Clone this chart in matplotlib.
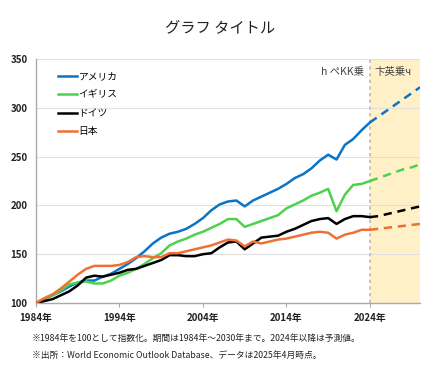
import matplotlib
matplotlib.use("Agg")
import matplotlib.pyplot as plt

plt.rcParams['font.family'] = ['Noto Sans CJK JP', 'DejaVu Sans']

years = list(range(1984, 2031))
actual_end = 2024

usa = [100, 104, 108, 112, 117, 121, 123, 123, 127, 130,
       135, 140, 146, 153, 161, 167, 171, 173, 176, 181,
       187, 195, 201, 204, 205, 199, 205, 209, 213, 217,
       222, 228, 232, 238, 246, 252, 247, 262, 268, 277,
       285, 291, 297, 303, 309, 315, 321]
uk = [100, 104, 108, 113, 119, 121, 122, 120, 120, 123,
      128, 131, 135, 140, 146, 151, 159, 163, 166, 170,
      173, 177, 181, 186, 186, 178, 181, 184, 187, 190,
      197, 201, 205, 210, 213, 217, 194, 211, 221, 222,
      225, 228, 231, 234, 237, 239, 242]
germany = [100, 102, 104, 108, 112, 118, 126, 128, 127, 129,
           131, 134, 135, 138, 141, 144, 149, 149, 148, 148,
           150, 151, 157, 162, 163, 155, 161, 167, 168, 169,
           173, 176, 180, 184, 186, 187, 181, 186, 189, 189,
           188, 189, 191, 193, 195, 197, 199]
japan = [100, 105, 109, 115, 122, 129, 135, 138, 138, 138,
         139, 142, 147, 148, 147, 147, 151, 151, 153, 155,
         157, 159, 162, 165, 164, 158, 163, 161, 163, 165,
         166, 168, 170, 172, 173, 172, 166, 170, 172, 175,
         175, 176, 177, 178, 179, 180, 181]

series_names = ['アメリカ', 'イギリス', 'ドイツ', '日本']
series_values = [usa, uk, germany, japan]
series_colors = ['#0A74C6', '#4CD24C', '#000000', '#EE7033']

xticks = [1984, 1994, 2004, 2014, 2024]
xtick_labels = ['1984年', '1994年', '2004年', '2014年', '2024年']
yticks = [100, 150, 200, 250, 300, 350]

title = 'グラフ タイトル'
label_actual = 'h ぺKK乗'
label_forecast = '卞英乗ч'
note1 = '※1984年を100として指数化。期間は1984年～2030年まで。2024年以降は予測値。'
note2 = '※出所：World Economic Outlook Database、データは2025年4月時点。'

fig = plt.figure(figsize=(4.41, 3.66), dpi=100)
ax = fig.add_axes([36/441, 1-303/366, (420-36)/441, (303-59)/366])

ax.axvspan(actual_end, years[-1], color='#FFF0C8', zorder=0, lw=0)
ax.axvline(actual_end, color='#BBBBBB', ls=(0, (2, 2)), lw=1.2, zorder=1)

idx = years.index(actual_end)
for name, vals, col in zip(series_names, series_values, series_colors):
    ax.plot(years[:idx+1], vals[:idx+1], color=col, lw=1.8, label=name, zorder=3)
    ax.plot(years[idx:], vals[idx:], color=col, lw=1.8, ls=(0, (3.3, 2.3)), zorder=3)

ax.set_xlim(1984, 2030)
ax.set_ylim(100, 350)
ax.set_yticks(yticks)
ax.set_xticks(xticks)
ax.set_xticklabels(xtick_labels)
ax.grid(axis='y', color='#E0E0E0', lw=0.8, zorder=0)
ax.set_axisbelow(True)
for s in ['top', 'right']:
    ax.spines[s].set_visible(False)
for s in ['left', 'bottom']:
    ax.spines[s].set_color('#AAAAAA')
    ax.spines[s].set_linewidth(1.0)
ax.tick_params(axis='y', length=0, labelsize=7, pad=6)
ax.tick_params(axis='x', length=3, color='#AAAAAA', labelsize=7, pad=4)
for lab in ax.get_yticklabels() + ax.get_xticklabels():
    lab.set_fontweight('bold')
    lab.set_color('#222222')

leg = ax.legend(loc='upper left', bbox_to_anchor=(0.035, 0.985), frameon=False,
                fontsize=7, handlelength=1.9, handletextpad=0.2, labelspacing=0.85)

ax.text(actual_end - 0.7, 337, label_actual, ha='right', va='center', fontsize=7.5, color='#444444')
ax.text(actual_end + 0.6, 337, label_forecast, ha='left', va='center', fontsize=7.5, color='#444444')

fig.text(220/441, 1-29/366, title, ha='center', va='center', fontsize=11, color='#222222')
fig.text(32/441, 1-338/366, note1, ha='left', va='center', fontsize=6.3, color='#222222')
fig.text(32/441, 1-355/366, note2, ha='left', va='center', fontsize=6.3, color='#222222')

fig.savefig('out.png', dpi=100)
